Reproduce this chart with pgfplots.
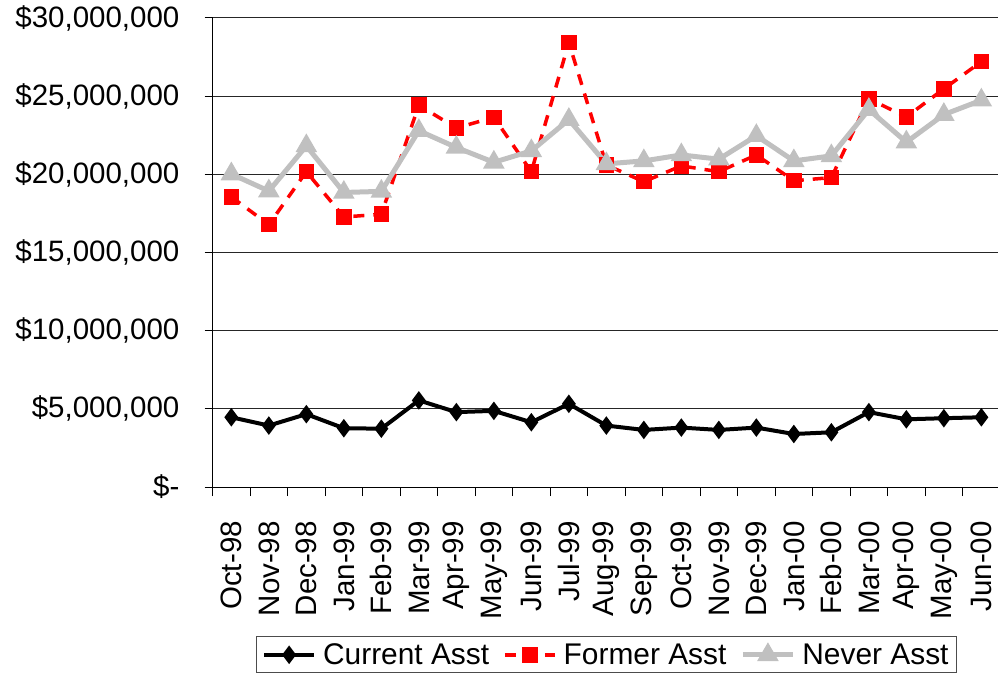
\documentclass[border=0pt]{standalone}
\usepackage{fontspec}
\setmainfont{Liberation Sans}
\usepackage{pgfplots}
\pgfplotsset{compat=1.18}
\definecolor{neverc}{RGB}{192,192,192}
\definecolor{formerc}{RGB}{255,0,0}
\begin{document}
\begin{tikzpicture}
\begin{axis}[
  at={(0,0)}, anchor=south west,
  scale only axis, width=787.5bp, height=469bp,
  xmin=-0.5, xmax=20.5, ymin=0, ymax=30000000,
  axis x line*=bottom, axis y line*=left,
  axis line style={black, line width=1bp},
  xtick={0,...,20},
  xticklabels={Oct-98,Nov-98,Dec-98,Jan-99,Feb-99,Mar-99,Apr-99,May-99,Jun-99,Jul-99,Aug-99,Sep-99,Oct-99,Nov-99,Dec-99,Jan-00,Feb-00,Mar-00,Apr-00,May-00,Jun-00},
  minor xtick={-0.5,0.5,...,20.5},
  every major x tick/.style={draw=none},
  every minor x tick/.style={black, line width=1bp},
  minor tick length=9bp,
  major tick length=8bp,
  tick align=outside,
  ytick={0,5000000,10000000,15000000,20000000,25000000,30000000},
  yticklabels={{\$-\hspace{33bp}},{\$5,000,000},{\$10,000,000},{\$15,000,000},{\$20,000,000},{\$25,000,000},{\$30,000,000}},
  scaled y ticks=false,
  every major y tick/.style={black, line width=1bp},
  ymajorgrids,
  major grid style={black!85, line width=1bp},
  yticklabel style={font=\fontsize{29.6}{35}\selectfont, anchor=east, inner sep=0pt, xshift=-25bp},
  xticklabel style={font=\fontsize{29.6}{35}\selectfont, rotate=90, anchor=east, inner sep=0pt},
  xticklabel shift=26bp,
  clip=false,
  legend columns=3,
  legend style={at={(0.5,-0.318)}, anchor=north, draw=black!70, line width=1bp,
    font=\fontsize{30}{35}\selectfont, inner xsep=6bp, inner ysep=5bp,
    /tikz/every odd column/.append style={column sep=5bp},
    /tikz/every even column/.append style={column sep=12bp}},
  legend image code/.code={\draw[mark repeat=2,mark phase=2,#1] plot coordinates {(0bp,0bp) (25bp,0bp) (50bp,0bp)};},
]
\addplot[black, line width=4bp, mark=diamond*, mark size=6bp, mark options={solid}] coordinates {
(0,4460000) (1,3930000) (2,4660000) (3,3760000) (4,3730000) (5,5540000) (6,4790000) (7,4870000) (8,4140000) (9,5320000) (10,3930000) (11,3650000) (12,3800000) (13,3650000) (14,3800000) (15,3390000) (16,3500000) (17,4790000) (18,4330000) (19,4400000) (20,4460000)};
\addlegendentry{Current Asst}
\addplot[formerc, line width=3.5bp, dash pattern=on 11bp off 9bp, mark=square*, mark size=6bp, mark options={solid}] coordinates {
(0,18560000) (1,16780000) (2,20170000) (3,17270000) (4,17450000) (5,24420000) (6,22960000) (7,23650000) (8,20170000) (9,28430000) (10,20600000) (11,19530000) (12,20540000) (13,20170000) (14,21240000) (15,19590000) (16,19790000) (17,24830000) (18,23670000) (19,25470000) (20,27210000)};
\addlegendentry{Former Asst}
\addplot[neverc, line width=5bp, mark=triangle*, mark size=7.5bp, mark options={solid}] coordinates {
(0,20020000) (1,18930000) (2,21820000) (3,18840000) (4,18910000) (5,22790000) (6,21720000) (7,20770000) (8,21500000) (9,23500000) (10,20670000) (11,20860000) (12,21240000) (13,20970000) (14,22470000) (15,20860000) (16,21180000) (17,24140000) (18,22060000) (19,23820000) (20,24740000)};
\addlegendentry{Never Asst}
\end{axis}
\pgfresetboundingbox
\useasboundingbox (-212.6bp,-191bp) rectangle (785.4bp,487bp);
\end{tikzpicture}
\end{document}
